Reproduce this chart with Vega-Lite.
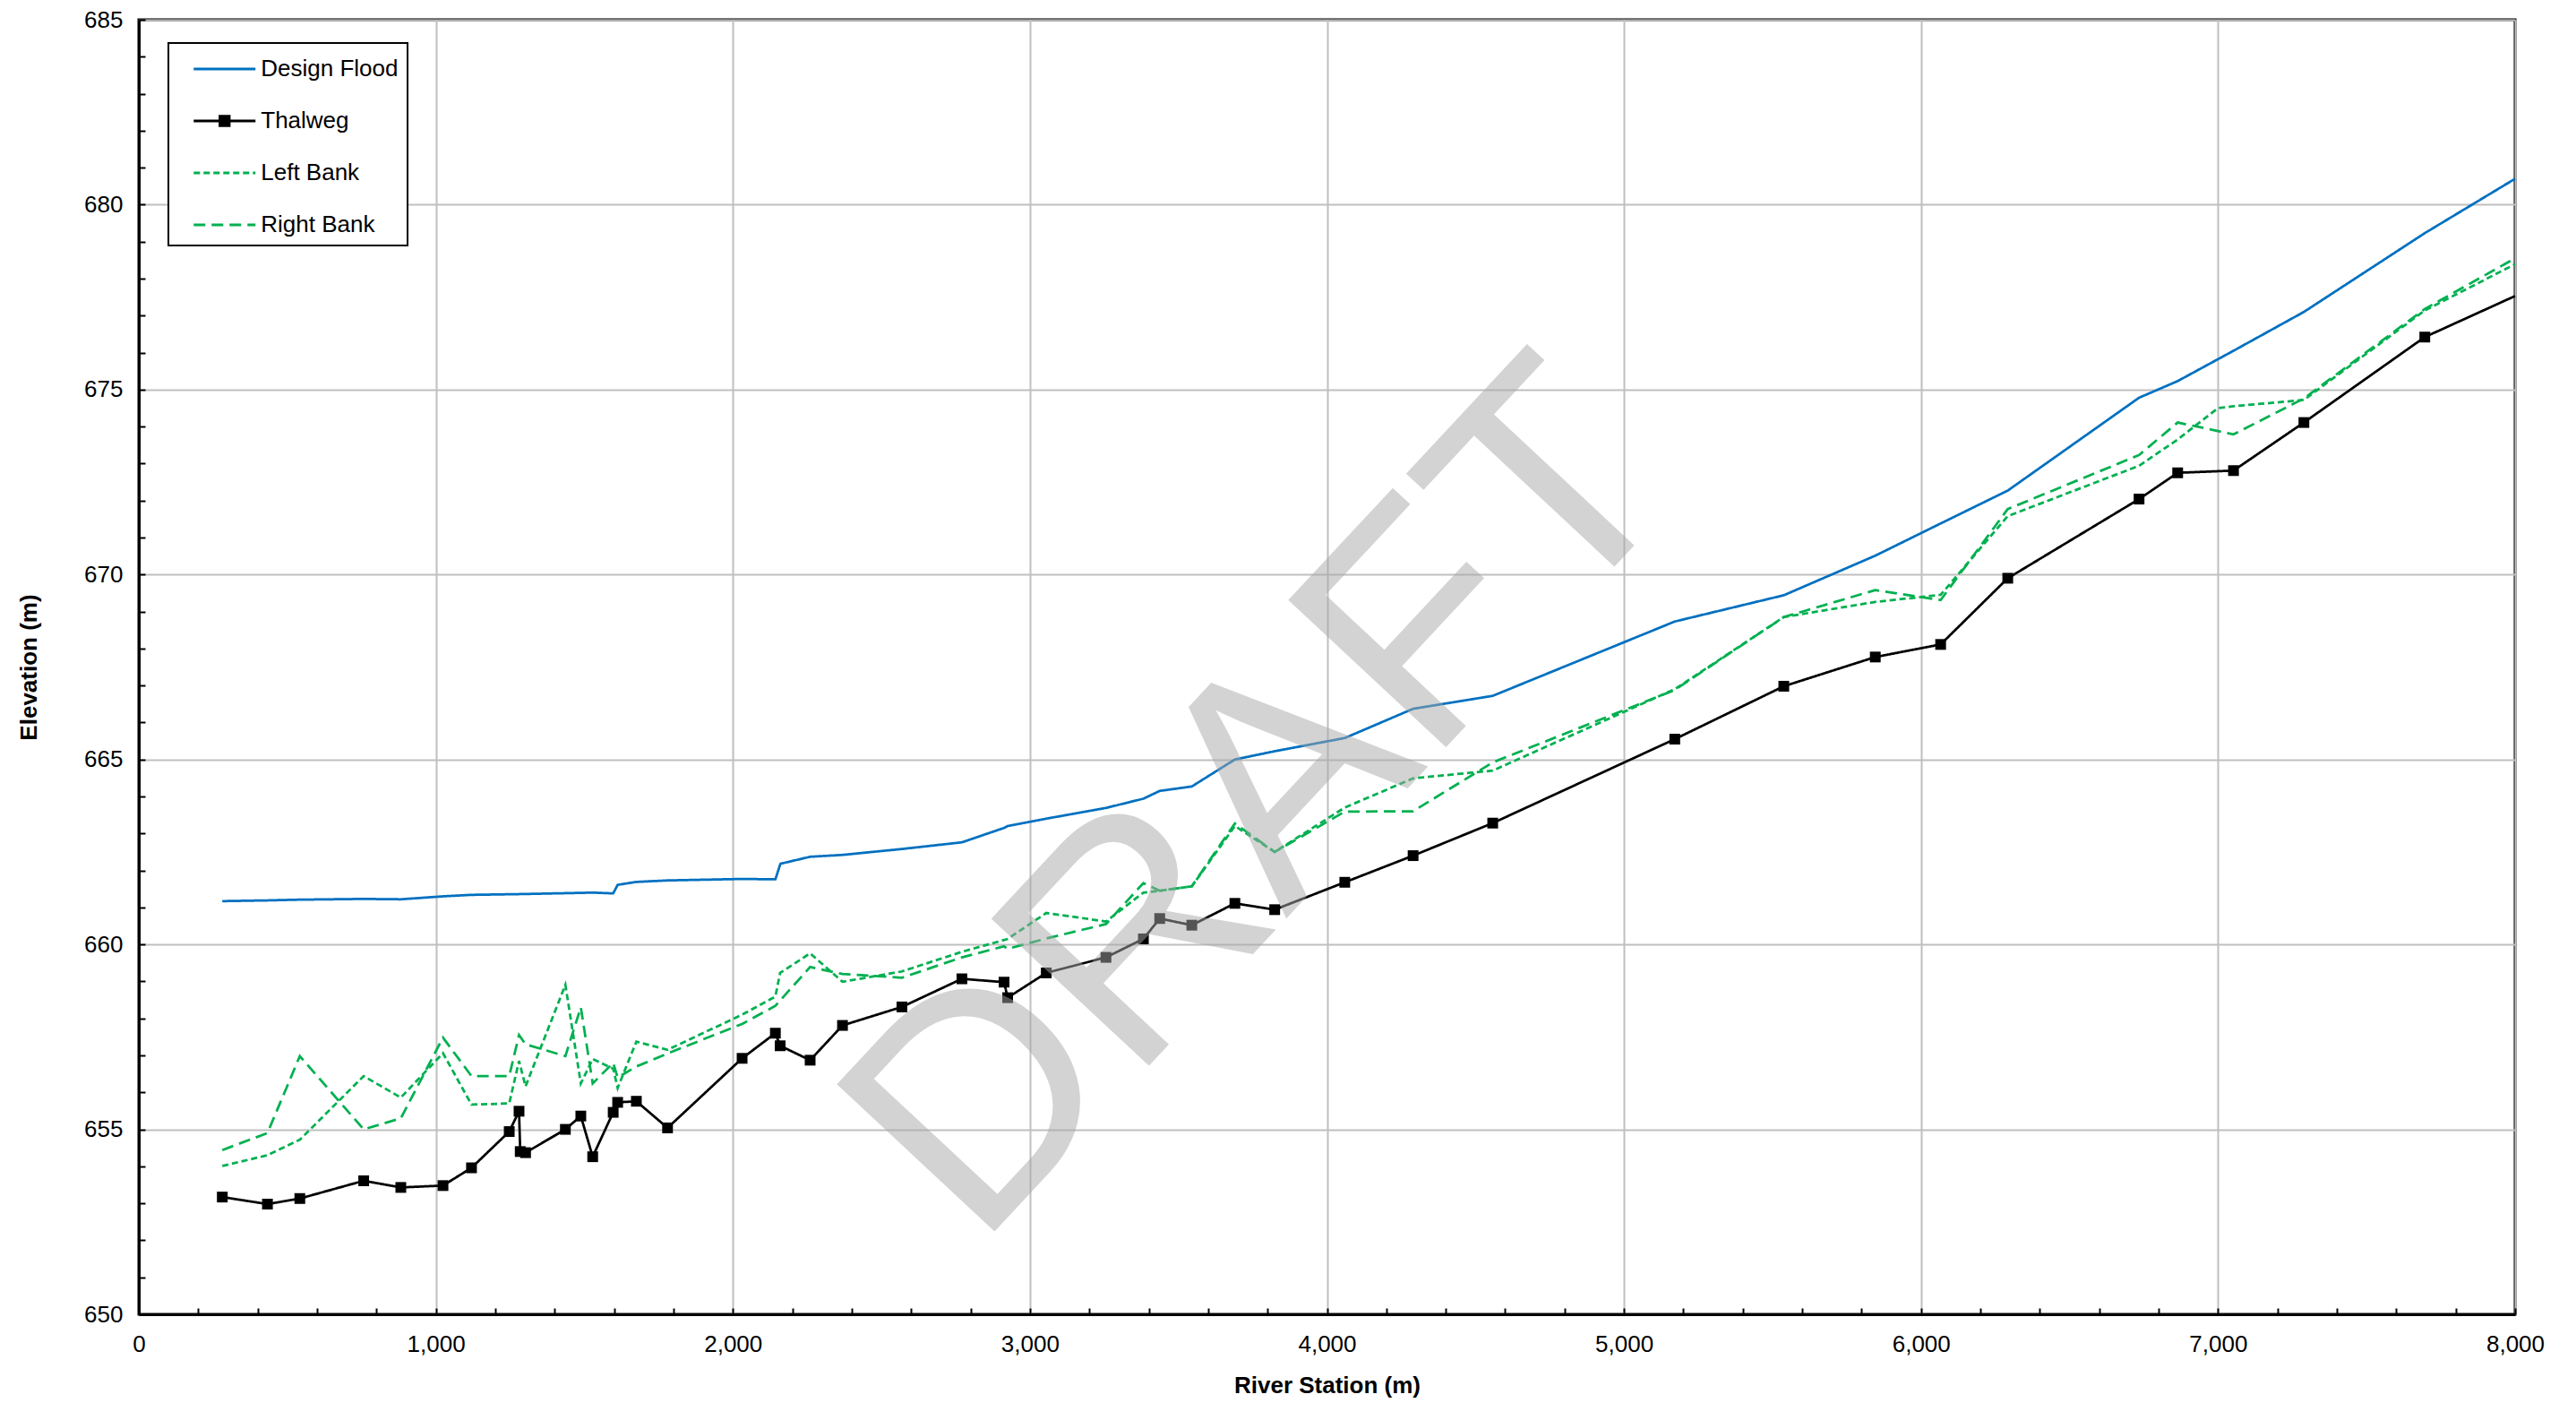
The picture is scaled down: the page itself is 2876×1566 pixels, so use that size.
{
  "$schema": "https://vega.github.io/schema/vega-lite/v6.json",
  "width": 2653,
  "height": 1445,
  "autosize": {"type": "none"},
  "padding": {"left": 155, "top": 22, "right": 68, "bottom": 99},
  "background": "white",
  "config": {
    "font": "Liberation Sans",
    "view": {"stroke": "black", "strokeWidth": 3}
  },
  "datasets": {
    "profile": [
      {"station": 281, "elevation": 661.17, "series": "Design Flood"},
      {"station": 433, "elevation": 661.19, "series": "Design Flood"},
      {"station": 542, "elevation": 661.21, "series": "Design Flood"},
      {"station": 757, "elevation": 661.23, "series": "Design Flood"},
      {"station": 882, "elevation": 661.22, "series": "Design Flood"},
      {"station": 1024, "elevation": 661.30, "series": "Design Flood"},
      {"station": 1120, "elevation": 661.34, "series": "Design Flood"},
      {"station": 1282, "elevation": 661.36, "series": "Design Flood"},
      {"station": 1528, "elevation": 661.40, "series": "Design Flood"},
      {"station": 1597, "elevation": 661.38, "series": "Design Flood"},
      {"station": 1612, "elevation": 661.61, "series": "Design Flood"},
      {"station": 1675, "elevation": 661.69, "series": "Design Flood"},
      {"station": 1780, "elevation": 661.73, "series": "Design Flood"},
      {"station": 2031, "elevation": 661.77, "series": "Design Flood"},
      {"station": 2143, "elevation": 661.76, "series": "Design Flood"},
      {"station": 2160, "elevation": 662.18, "series": "Design Flood"},
      {"station": 2260, "elevation": 662.37, "series": "Design Flood"},
      {"station": 2369, "elevation": 662.42, "series": "Design Flood"},
      {"station": 2569, "elevation": 662.58, "series": "Design Flood"},
      {"station": 2771, "elevation": 662.76, "series": "Design Flood"},
      {"station": 2913, "elevation": 663.15, "series": "Design Flood"},
      {"station": 2925, "elevation": 663.20, "series": "Design Flood"},
      {"station": 3055, "elevation": 663.40, "series": "Design Flood"},
      {"station": 3256, "elevation": 663.69, "series": "Design Flood"},
      {"station": 3382, "elevation": 663.94, "series": "Design Flood"},
      {"station": 3437, "elevation": 664.15, "series": "Design Flood"},
      {"station": 3545, "elevation": 664.27, "series": "Design Flood"},
      {"station": 3690, "elevation": 665.00, "series": "Design Flood"},
      {"station": 3822, "elevation": 665.22, "series": "Design Flood"},
      {"station": 4060, "elevation": 665.58, "series": "Design Flood"},
      {"station": 4290, "elevation": 666.37, "series": "Design Flood"},
      {"station": 4558, "elevation": 666.72, "series": "Design Flood"},
      {"station": 5171, "elevation": 668.73, "series": "Design Flood"},
      {"station": 5538, "elevation": 669.44, "series": "Design Flood"},
      {"station": 5846, "elevation": 670.51, "series": "Design Flood"},
      {"station": 6066, "elevation": 671.38, "series": "Design Flood"},
      {"station": 6292, "elevation": 672.27, "series": "Design Flood"},
      {"station": 6734, "elevation": 674.78, "series": "Design Flood"},
      {"station": 6864, "elevation": 675.23, "series": "Design Flood"},
      {"station": 7052, "elevation": 676.05, "series": "Design Flood"},
      {"station": 7289, "elevation": 677.10, "series": "Design Flood"},
      {"station": 7696, "elevation": 679.23, "series": "Design Flood"},
      {"station": 8000, "elevation": 680.70, "series": "Design Flood"},

      {"station": 281, "elevation": 653.17, "series": "Thalweg"},
      {"station": 433, "elevation": 652.98, "series": "Thalweg"},
      {"station": 542, "elevation": 653.13, "series": "Thalweg"},
      {"station": 757, "elevation": 653.61, "series": "Thalweg"},
      {"station": 882, "elevation": 653.43, "series": "Thalweg"},
      {"station": 1024, "elevation": 653.48, "series": "Thalweg"},
      {"station": 1120, "elevation": 653.96, "series": "Thalweg"},
      {"station": 1247, "elevation": 654.94, "series": "Thalweg"},
      {"station": 1280, "elevation": 655.49, "series": "Thalweg"},
      {"station": 1284, "elevation": 654.40, "series": "Thalweg"},
      {"station": 1302, "elevation": 654.37, "series": "Thalweg"},
      {"station": 1436, "elevation": 655.00, "series": "Thalweg"},
      {"station": 1488, "elevation": 655.36, "series": "Thalweg"},
      {"station": 1528, "elevation": 654.26, "series": "Thalweg"},
      {"station": 1597, "elevation": 655.46, "series": "Thalweg"},
      {"station": 1612, "elevation": 655.73, "series": "Thalweg"},
      {"station": 1675, "elevation": 655.76, "series": "Thalweg"},
      {"station": 1780, "elevation": 655.04, "series": "Thalweg"},
      {"station": 2031, "elevation": 656.92, "series": "Thalweg"},
      {"station": 2143, "elevation": 657.60, "series": "Thalweg"},
      {"station": 2159, "elevation": 657.26, "series": "Thalweg"},
      {"station": 2260, "elevation": 656.87, "series": "Thalweg"},
      {"station": 2369, "elevation": 657.81, "series": "Thalweg"},
      {"station": 2569, "elevation": 658.31, "series": "Thalweg"},
      {"station": 2771, "elevation": 659.07, "series": "Thalweg"},
      {"station": 2913, "elevation": 658.98, "series": "Thalweg"},
      {"station": 2925, "elevation": 658.56, "series": "Thalweg"},
      {"station": 3055, "elevation": 659.23, "series": "Thalweg"},
      {"station": 3256, "elevation": 659.65, "series": "Thalweg"},
      {"station": 3382, "elevation": 660.15, "series": "Thalweg"},
      {"station": 3437, "elevation": 660.70, "series": "Thalweg"},
      {"station": 3545, "elevation": 660.52, "series": "Thalweg"},
      {"station": 3690, "elevation": 661.11, "series": "Thalweg"},
      {"station": 3824, "elevation": 660.94, "series": "Thalweg"},
      {"station": 4060, "elevation": 661.68, "series": "Thalweg"},
      {"station": 4290, "elevation": 662.40, "series": "Thalweg"},
      {"station": 4558, "elevation": 663.28, "series": "Thalweg"},
      {"station": 5171, "elevation": 665.55, "series": "Thalweg"},
      {"station": 5538, "elevation": 666.98, "series": "Thalweg"},
      {"station": 5846, "elevation": 667.77, "series": "Thalweg"},
      {"station": 6066, "elevation": 668.11, "series": "Thalweg"},
      {"station": 6292, "elevation": 669.90, "series": "Thalweg"},
      {"station": 6734, "elevation": 672.04, "series": "Thalweg"},
      {"station": 6864, "elevation": 672.75, "series": "Thalweg"},
      {"station": 7052, "elevation": 672.81, "series": "Thalweg"},
      {"station": 7289, "elevation": 674.11, "series": "Thalweg"},
      {"station": 7696, "elevation": 676.42, "series": "Thalweg"},
      {"station": 8000, "elevation": 677.53, "series": "Thalweg"},

      {"station": 281, "elevation": 654.01, "series": "Left Bank"},
      {"station": 433, "elevation": 654.30, "series": "Left Bank"},
      {"station": 542, "elevation": 654.72, "series": "Left Bank"},
      {"station": 757, "elevation": 656.44, "series": "Left Bank"},
      {"station": 882, "elevation": 655.86, "series": "Left Bank"},
      {"station": 1024, "elevation": 657.06, "series": "Left Bank"},
      {"station": 1120, "elevation": 655.67, "series": "Left Bank"},
      {"station": 1247, "elevation": 655.70, "series": "Left Bank"},
      {"station": 1280, "elevation": 656.85, "series": "Left Bank"},
      {"station": 1302, "elevation": 656.16, "series": "Left Bank"},
      {"station": 1436, "elevation": 658.91, "series": "Left Bank"},
      {"station": 1488, "elevation": 656.24, "series": "Left Bank"},
      {"station": 1528, "elevation": 656.90, "series": "Left Bank"},
      {"station": 1597, "elevation": 656.64, "series": "Left Bank"},
      {"station": 1612, "elevation": 656.12, "series": "Left Bank"},
      {"station": 1675, "elevation": 657.37, "series": "Left Bank"},
      {"station": 1780, "elevation": 657.15, "series": "Left Bank"},
      {"station": 2031, "elevation": 658.10, "series": "Left Bank"},
      {"station": 2143, "elevation": 658.59, "series": "Left Bank"},
      {"station": 2159, "elevation": 659.23, "series": "Left Bank"},
      {"station": 2260, "elevation": 659.76, "series": "Left Bank"},
      {"station": 2369, "elevation": 658.99, "series": "Left Bank"},
      {"station": 2569, "elevation": 659.27, "series": "Left Bank"},
      {"station": 2771, "elevation": 659.80, "series": "Left Bank"},
      {"station": 2913, "elevation": 660.12, "series": "Left Bank"},
      {"station": 2925, "elevation": 660.15, "series": "Left Bank"},
      {"station": 3055, "elevation": 660.85, "series": "Left Bank"},
      {"station": 3256, "elevation": 660.62, "series": "Left Bank"},
      {"station": 3382, "elevation": 661.40, "series": "Left Bank"},
      {"station": 3437, "elevation": 661.45, "series": "Left Bank"},
      {"station": 3545, "elevation": 661.57, "series": "Left Bank"},
      {"station": 3690, "elevation": 663.20, "series": "Left Bank"},
      {"station": 3824, "elevation": 662.50, "series": "Left Bank"},
      {"station": 4060, "elevation": 663.70, "series": "Left Bank"},
      {"station": 4290, "elevation": 664.49, "series": "Left Bank"},
      {"station": 4558, "elevation": 664.70, "series": "Left Bank"},
      {"station": 5171, "elevation": 666.90, "series": "Left Bank"},
      {"station": 5538, "elevation": 668.85, "series": "Left Bank"},
      {"station": 5846, "elevation": 669.26, "series": "Left Bank"},
      {"station": 6066, "elevation": 669.45, "series": "Left Bank"},
      {"station": 6292, "elevation": 671.58, "series": "Left Bank"},
      {"station": 6734, "elevation": 672.94, "series": "Left Bank"},
      {"station": 6864, "elevation": 673.65, "series": "Left Bank"},
      {"station": 7000, "elevation": 674.50, "series": "Left Bank"},
      {"station": 7052, "elevation": 674.55, "series": "Left Bank"},
      {"station": 7289, "elevation": 674.72, "series": "Left Bank"},
      {"station": 7696, "elevation": 677.14, "series": "Left Bank"},
      {"station": 8000, "elevation": 678.39, "series": "Left Bank"},

      {"station": 281, "elevation": 654.44, "series": "Right Bank"},
      {"station": 433, "elevation": 654.90, "series": "Right Bank"},
      {"station": 542, "elevation": 656.98, "series": "Right Bank"},
      {"station": 757, "elevation": 655.00, "series": "Right Bank"},
      {"station": 882, "elevation": 655.30, "series": "Right Bank"},
      {"station": 1024, "elevation": 657.48, "series": "Right Bank"},
      {"station": 1120, "elevation": 656.44, "series": "Right Bank"},
      {"station": 1247, "elevation": 656.44, "series": "Right Bank"},
      {"station": 1280, "elevation": 657.55, "series": "Right Bank"},
      {"station": 1302, "elevation": 657.30, "series": "Right Bank"},
      {"station": 1436, "elevation": 656.98, "series": "Right Bank"},
      {"station": 1488, "elevation": 658.30, "series": "Right Bank"},
      {"station": 1528, "elevation": 656.24, "series": "Right Bank"},
      {"station": 1597, "elevation": 656.80, "series": "Right Bank"},
      {"station": 1612, "elevation": 656.40, "series": "Right Bank"},
      {"station": 1675, "elevation": 656.70, "series": "Right Bank"},
      {"station": 1780, "elevation": 657.05, "series": "Right Bank"},
      {"station": 2031, "elevation": 657.85, "series": "Right Bank"},
      {"station": 2143, "elevation": 658.34, "series": "Right Bank"},
      {"station": 2260, "elevation": 659.39, "series": "Right Bank"},
      {"station": 2369, "elevation": 659.20, "series": "Right Bank"},
      {"station": 2569, "elevation": 659.10, "series": "Right Bank"},
      {"station": 2771, "elevation": 659.65, "series": "Right Bank"},
      {"station": 2913, "elevation": 659.95, "series": "Right Bank"},
      {"station": 2925, "elevation": 659.88, "series": "Right Bank"},
      {"station": 3055, "elevation": 660.16, "series": "Right Bank"},
      {"station": 3256, "elevation": 660.55, "series": "Right Bank"},
      {"station": 3382, "elevation": 661.66, "series": "Right Bank"},
      {"station": 3437, "elevation": 661.45, "series": "Right Bank"},
      {"station": 3545, "elevation": 661.57, "series": "Right Bank"},
      {"station": 3690, "elevation": 663.27, "series": "Right Bank"},
      {"station": 3824, "elevation": 662.50, "series": "Right Bank"},
      {"station": 4060, "elevation": 663.59, "series": "Right Bank"},
      {"station": 4290, "elevation": 663.60, "series": "Right Bank"},
      {"station": 4558, "elevation": 664.92, "series": "Right Bank"},
      {"station": 5171, "elevation": 666.88, "series": "Right Bank"},
      {"station": 5538, "elevation": 668.85, "series": "Right Bank"},
      {"station": 5846, "elevation": 669.58, "series": "Right Bank"},
      {"station": 6066, "elevation": 669.31, "series": "Right Bank"},
      {"station": 6292, "elevation": 671.77, "series": "Right Bank"},
      {"station": 6734, "elevation": 673.23, "series": "Right Bank"},
      {"station": 6864, "elevation": 674.11, "series": "Right Bank"},
      {"station": 7052, "elevation": 673.79, "series": "Right Bank"},
      {"station": 7289, "elevation": 674.76, "series": "Right Bank"},
      {"station": 7696, "elevation": 677.18, "series": "Right Bank"},
      {"station": 8000, "elevation": 678.55, "series": "Right Bank"}
    ]
  },
  "layer": [
    {
      "data": {"name": "profile"},
      "mark": {"type": "line", "strokeWidth": 2.75},
      "encoding": {
        "x": {
          "field": "station", "type": "quantitative",
          "scale": {"domain": [0, 8000], "nice": false},
          "axis": {
            "title": "River Station (m)",
            "titleFont": "Liberation Sans", "titleFontSize": 26, "titleFontWeight": "bold", "titleColor": "black", "titlePadding": 20,
            "values": [0,200,400,600,800,1000,1200,1400,1600,1800,2000,2200,2400,2600,2800,3000,3200,3400,3600,3800,4000,4200,4400,4600,4800,5000,5200,5400,5600,5800,6000,6200,6400,6600,6800,7000,7200,7400,7600,7800,8000],
            "labelExpr": "datum.value % 1000 === 0 ? format(datum.value, ',') : ''",
            "labelFont": "Liberation Sans", "labelFontSize": 26, "labelColor": "black",
            "labelPadding": 27, "labelOverlap": false, "labelFlush": false,
            "tickSize": -7, "tickColor": "black", "tickWidth": 2,
            "domainColor": "black", "domainWidth": 3,
            "grid": true, "gridColor": "#BFBFBF", "gridWidth": 2,
            "gridOpacity": {"condition": {"test": "datum.value % 1000 !== 0", "value": 0}, "value": 1}
          }
        },
        "y": {
          "field": "elevation", "type": "quantitative",
          "scale": {"domain": [650, 685], "nice": false, "zero": false},
          "axis": {
            "title": "Elevation (m)",
            "titleFont": "Liberation Sans", "titleFontSize": 26, "titleFontWeight": "bold", "titleColor": "black", "titlePadding": 48,
            "values": [650,651,652,653,654,655,656,657,658,659,660,661,662,663,664,665,666,667,668,669,670,671,672,673,674,675,676,677,678,679,680,681,682,683,684,685],
            "labelExpr": "datum.value % 5 === 0 ? datum.value : ''",
            "labelFont": "Liberation Sans", "labelFontSize": 26, "labelColor": "black",
            "labelPadding": 25, "labelOverlap": false, "labelFlush": false,
            "tickSize": -7, "tickColor": "black", "tickWidth": 2,
            "domainColor": "black", "domainWidth": 3,
            "grid": true, "gridColor": "#BFBFBF", "gridWidth": 2,
            "gridOpacity": {"condition": {"test": "datum.value % 5 !== 0", "value": 0}, "value": 1}
          }
        },
        "color": {
          "field": "series", "type": "nominal",
          "scale": {"domain": ["Design Flood", "Thalweg", "Left Bank", "Right Bank"], "range": ["#0070C0", "#000000", "#00B050", "#00B050"]},
          "legend": {
            "title": null,
            "orient": "none", "legendX": 33, "legendY": 26,
            "strokeColor": "black", "padding": 10, "fillColor": "white",
            "labelFont": "Liberation Sans", "labelFontSize": 26, "labelColor": "black",
            "labelExpr": "datum.label + '\u00a0\u00a0\u00a0'",
            "symbolType": "M-2,0H2", "symbolSize": 1190, "symbolStrokeWidth": 3,
            "symbolOffset": 33.75, "labelOffset": 21.5, "rowPadding": 26,
            "encode": {
              "legend": {"update": {"strokeWidth": {"value": 2}}},
              "symbols": {"update": {
                "shape": [{"test": "datum.value === 'Thalweg'", "value": "M-2,0H2M-0.3,-0.3H0.3V0.3H-0.3Z"}, {"value": "M-2,0H2"}],
                "fill": [{"test": "datum.value === 'Thalweg'", "value": "black"}, {"value": "transparent"}]
              }}
            }
          }
        },
        "strokeDash": {
          "field": "series", "type": "nominal",
          "scale": {"domain": ["Design Flood", "Thalweg", "Left Bank", "Right Bank"], "range": [[1, 0], [1, 0], [7, 4], [13, 7]]},
          "legend": {"title": null}
        }
      }
    },
    {
      "data": {"name": "profile"},
      "transform": [{"filter": "datum.series === 'Thalweg' && datum.station < 8000"}],
      "mark": {"type": "point", "shape": "square", "filled": true, "color": "black", "size": 144, "opacity": 1},
      "encoding": {
        "x": {"field": "station", "type": "quantitative"},
        "y": {"field": "elevation", "type": "quantitative"}
      }
    },
    {
      "data": {"values": [{"label": "DRAFT"}]},
      "mark": {"type": "text", "font": "Liberation Sans", "fontSize": 350, "angle": -47, "align": "center", "baseline": "middle", "color": "#a8a8a8", "opacity": 0.5},
      "encoding": {
        "x": {"datum": 3790, "type": "quantitative"},
        "y": {"datum": 663.8, "type": "quantitative"},
        "text": {"field": "label", "type": "nominal"}
      }
    }
  ]
}
